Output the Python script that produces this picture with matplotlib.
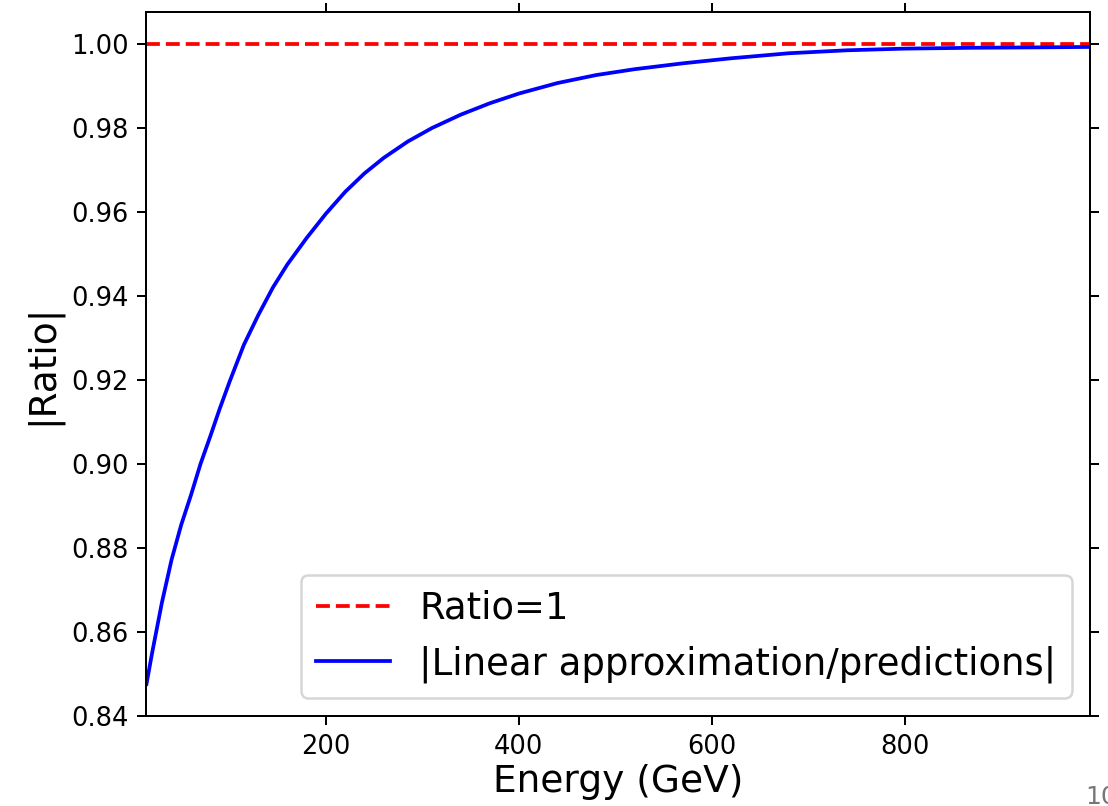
import numpy as np
import matplotlib
matplotlib.use("Agg")
import matplotlib.pyplot as plt

# values
energy = [14, 20, 30, 40, 50, 60, 70, 80, 90, 100, 115, 130, 145, 160, 180,
          200, 220, 240, 260, 285, 310, 340, 370, 400, 440, 480, 520, 570,
          620, 680, 740, 800, 870, 940, 992]
ratio = [0.8476, 0.8552, 0.8670, 0.8772, 0.8855, 0.8925, 0.9000, 0.9065,
         0.9132, 0.9195, 0.9284, 0.9355, 0.9420, 0.9475, 0.9538, 0.9596,
         0.9648, 0.9692, 0.9729, 0.9768, 0.9800, 0.9832, 0.9859, 0.9882,
         0.9907, 0.9926, 0.9940, 0.9954, 0.9966, 0.9978, 0.9985, 0.9989,
         0.9991, 0.9992, 0.9993]
x_ticks = [200, 400, 600, 800]
y_ticks = [0.84, 0.86, 0.88, 0.90, 0.92, 0.94, 0.96, 0.98, 1.00]

dpi = 180
fig = plt.figure(figsize=(1108 / dpi, 806 / dpi), dpi=dpi)
ax = fig.add_axes([146 / 1108, 1 - 716 / 806, (1090 - 146) / 1108, (716 - 12) / 806])

ax.axhline(1.0, color="red", linestyle="--", label="Ratio=1")
ax.plot(energy, ratio, color="blue", label="|Linear approximation/predictions|")

ax.set_xlim(energy[0] - 0.5, energy[-1])
ax.set_xticks(x_ticks)
ax.set_yticks(y_ticks)
ax.set_yticklabels([f"{v:.2f}" for v in y_ticks])
ax.tick_params(top=True, right=True, labeltop=False, labelright=False,
               labelsize=10.3)

ax.set_xlabel("Energy (GeV)", fontsize=15, labelpad=2)
ax.set_ylabel("|Ratio|", fontsize=15)
ax.legend(loc="lower right", fontsize=14.8)

# stray text cut off at the right edge of the screenshot
fig.text(1085 / 1108, 2 / 806, "10", fontsize=10, color="#777777")

fig.savefig("out.png", dpi=dpi)
